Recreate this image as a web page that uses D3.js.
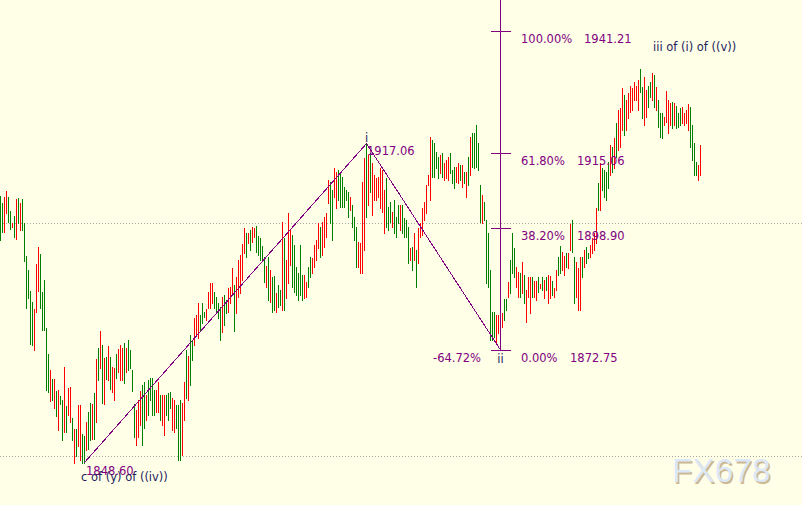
<!DOCTYPE html>
<html><head><meta charset="utf-8">
<script src="https://cdn.jsdelivr.net/npm/d3@7"></script>
<style>html,body{margin:0;padding:0;background:#ffffe8;}svg{display:block}</style>
</head><body><svg id="c" width="802" height="505"></svg>
<script>
const highs = [
1905.8,1904.3,1905.6,1906.9,1905.6,1902.6,1900.0,1901.5,1905.1,1905.4,
1904.3,1905.1,1900.0,1892.9,1889.9,1885.4,1883.1,1881.5,1891.2,1894.9,
1893.4,1885.2,1887.8,1877.5,1871.9,1868.5,1866.5,1866.5,1864.0,1864.2,
1862.9,1862.0,1869.1,1860.7,1864.6,1864.8,1858.2,1855.8,1855.8,1860.9,
1860.9,1854.7,1854.3,1857.3,1859.5,1861.4,1861.2,1863.5,1870.8,1873.2,
1876.8,1873.8,1871.0,1871.2,1873.6,1871.2,1869.1,1868.9,1871.9,1873.0,
1873.8,1873.2,1874.3,1873.2,1874.9,1872.7,1868.5,1861.2,1859.9,1862.0,
1864.0,1865.3,1865.9,1863.1,1866.3,1866.7,1866.7,1864.2,1864.2,1865.9,
1863.1,1863.1,1863.1,1863.1,1863.5,1863.7,1862.4,1862.0,1860.9,1860.9,
1862.0,1861.4,1865.9,1872.7,1871.5,1876.0,1874.9,1879.6,1880.2,1882.8,
1880.2,1882.8,1880.9,1881.5,1885.2,1887.1,1887.1,1885.2,1884.1,1882.8,
1882.0,1884.1,1884.6,1883.5,1886.1,1886.3,1890.4,1886.7,1888.4,1892.1,
1893.1,1895.5,1898.9,1897.9,1897.9,1898.5,1899.1,1898.9,1899.3,1897.2,
1896.8,1895.1,1892.7,1890.8,1892.7,1889.9,1888.4,1888.6,1885.0,1886.7,
1885.6,1900.2,1896.8,1892.1,1902.1,1898.5,1897.4,1895.3,1890.6,1889.3,
1895.3,1888.9,1888.9,1887.4,1890.6,1892.7,1892.5,1895.3,1896.4,1900.0,
1899.1,1900.2,1901.3,1902.1,1909.2,1908.8,1907.1,1911.8,1911.0,1911.4,
1910.7,1909.9,1907.7,1907.1,1906.7,1905.6,1903.9,1901.3,1899.1,1895.9,
1895.7,1908.8,1914.0,1917.06,1914.6,1915.0,1912.9,1910.3,1909.7,1909.9,
1911.8,1911.4,1907.1,1909.7,1903.4,1904.5,1902.4,1904.9,1901.3,1903.9,
1903.9,1903.9,1901.1,1900.6,1899.1,1894.6,1894.9,1897.9,1894.2,1898.9,
1900.0,1903.2,1904.5,1908.2,1910.3,1918.5,1917.8,1917.2,1915.3,1914.2,
1914.6,1915.0,1912.9,1913.5,1914.2,1915.0,1911.4,1912.0,1912.0,1912.9,
1912.4,1912.4,1911.0,1911.0,1914.2,1918.5,1919.3,1919.3,1921.0,1917.2,
1908.2,1906.0,1904.5,1900.6,1897.9,1889.9,1880.9,1880.9,1880.2,1880.2,
1882.4,1880.7,1883.7,1883.7,1887.4,1892.1,1897.9,1894.6,1890.6,1889.5,
1889.3,1891.6,1888.9,1885.6,1888.4,1888.4,1888.4,1887.6,1887.6,1888.4,
1886.9,1888.4,1887.8,1888.4,1888.9,1888.6,1887.6,1886.1,1889.9,1892.7,
1895.1,1893.8,1892.9,1893.6,1893.6,1899.8,1900.6,1892.7,1891.6,1890.4,
1892.7,1892.7,1894.2,1894.9,1893.6,1895.3,1896.8,1897.9,1903.2,1908.6,
1912.9,1911.8,1911.4,1911.0,1913.1,1916.7,1916.3,1918.2,1921.5,1924.3,
1924.7,1929.0,1927.5,1926.4,1927.9,1929.4,1929.0,1930.3,1929.4,1930.7,
1933.1,1929.2,1931.3,1928.5,1929.4,1930.3,1932.2,1931.8,1929.2,1926.4,
1923.6,1923.6,1922.8,1928.3,1926.4,1925.8,1926.0,1925.8,1925.1,1923.6,
1924.7,1924.9,1923.6,1924.3,1925.5,1924.9,1921.0,1917.2,1913.1,1912.4,
1916.7];
const lows = [
1896.4,1898.1,1898.1,1902.1,1900.2,1898.7,1899.1,1897.0,1896.6,1900.0,
1898.5,1898.5,1891.9,1881.8,1883.9,1874.0,1873.8,1872.7,1880.9,1885.4,
1881.8,1877.0,1877.0,1864.2,1863.7,1861.8,1862.0,1860.3,1858.6,1855.6,
1861.2,1853.4,1855.1,1855.1,1858.8,1857.3,1853.4,1848.6,1850.0,1852.1,
1849.1,1848.6,1848.6,1851.3,1851.5,1853.4,1853.6,1853.6,1857.3,1866.3,
1868.9,1861.4,1861.2,1866.5,1866.3,1864.4,1863.7,1862.0,1866.7,1868.0,
1866.3,1866.3,1865.7,1868.0,1868.5,1868.9,1864.0,1854.1,1852.4,1854.1,
1856.7,1852.4,1856.0,1857.7,1858.8,1862.0,1858.8,1858.8,1859.5,1859.5,
1857.7,1856.7,1854.5,1858.8,1857.7,1860.3,1855.6,1855.1,1856.0,1849.1,
1849.1,1850.2,1857.7,1862.4,1862.0,1865.2,1870.6,1873.8,1875.9,1875.3,
1877.0,1878.5,1879.8,1879.2,1881.8,1881.8,1882.8,1881.8,1880.7,1879.6,
1874.9,1876.6,1878.1,1880.7,1880.9,1882.8,1885.0,1876.8,1880.7,1884.1,
1885.0,1887.8,1893.6,1892.7,1895.7,1894.2,1895.9,1897.0,1893.8,1893.1,
1892.1,1892.1,1887.4,1886.3,1883.5,1883.1,1880.9,1881.3,1880.9,1882.0,
1882.4,1881.3,1881.3,1883.9,1887.1,1891.0,1886.3,1885.2,1884.6,1883.5,
1884.6,1883.5,1883.9,1884.1,1886.3,1888.4,1889.3,1890.6,1892.1,1894.6,
1892.7,1893.1,1894.9,1897.0,1904.3,1900.0,1896.4,1905.6,1903.2,1904.9,
1903.4,1903.4,1903.4,1904.9,1901.3,1902.8,1899.1,1896.4,1890.6,1890.6,
1889.3,1889.3,1894.2,1901.3,1903.9,1906.7,1901.7,1904.9,1904.9,1905.6,
1903.2,1902.4,1897.9,1899.1,1898.5,1900.2,1899.1,1897.9,1897.0,1900.0,
1898.5,1897.9,1897.0,1897.0,1891.4,1892.1,1889.9,1892.1,1886.3,1891.4,
1897.0,1897.4,1900.6,1902.1,1908.2,1904.9,1909.9,1909.9,1911.8,1909.7,
1910.7,1909.9,1909.2,1909.7,1909.2,1910.7,1908.6,1907.5,1908.8,1908.6,
1909.2,1907.7,1908.6,1905.6,1908.2,1910.3,1912.0,1911.8,1912.0,1911.4,
1900.2,1900.0,1900.6,1887.1,1886.3,1874.9,1874.9,1875.5,1874.5,1876.4,
1872.75,1877.7,1879.2,1881.3,1884.1,1885.0,1889.3,1888.4,1886.3,1884.1,
1884.1,1885.0,1882.8,1878.7,1884.1,1880.7,1884.1,1884.1,1883.5,1885.2,
1886.1,1885.6,1883.9,1885.6,1882.8,1883.9,1884.6,1884.1,1885.6,1888.9,
1889.3,1889.9,1888.9,1890.6,1890.4,1894.2,1893.8,1882.8,1884.1,1881.3,
1881.3,1888.4,1890.6,1891.4,1892.5,1892.7,1893.6,1894.2,1895.7,1902.8,
1902.8,1907.1,1905.6,1904.9,1907.5,1910.3,1911.0,1911.8,1914.2,1915.7,
1916.3,1920.0,1918.9,1920.0,1922.5,1923.8,1924.3,1926.4,1926.4,1924.3,
1928.1,1922.5,1921.0,1922.7,1924.9,1927.0,1926.4,1924.9,1924.3,1920.6,
1918.5,1918.2,1921.0,1921.7,1919.3,1921.0,1920.4,1921.0,1920.4,1920.6,
1921.0,1921.5,1921.0,1921.5,1920.0,1916.3,1913.5,1910.3,1910.3,1909.2,
1910.3];
const dirs = ("ggrrggrgrg"+"rggggggrrr"+"gggggrgrgr"+"ggrgrrgrgr"+"rggrggrgrg"+
"rgrgrgrrgr"+"rrgrggggrr"+"rggrggggrr"+"grrgggrrgg"+"grrgrggrrr"+
"gggrrrrggg"+"grggrrrgrr"+"rrrgrgrrgg"+"gggrgrggrg"+"grgrrrgggg"+
"ggrrggrrrr"+"grrrrggrrg"+"gggggrgggr"+"rrrgrgrrrr"+"rrrgggrggg"+
"rggggrgrgr"+"rrrrrrgggg"+"rgrrrgggrr"+"grgrgrgggg"+"grggggggrr"+
"rrggrgggrr"+"grgrrrgrrg"+"rgrgrrgrrg"+"grrgrrggrr"+"rgrggrrrrg"+
"rggggrgrgr"+"rrgrrrrrrr"+"ggrrggrgrg"+"ggrrrrgrgg"+"grrrrggggr"+"r").split("");

const fibLevels = [
  {pct:"100.00%", price:1941.21},
  {pct:"61.80%",  price:1915.06},
  {pct:"38.20%",  price:1898.90},
  {pct:"0.00%",   price:1872.75}
];
const fibPriceX = [584, 577, 577, 570];
const swing = [{i:42, p:1848.60}, {i:183, p:1917.06}, {i:250, p:1872.75}];
const gridPrices = [1900, 1850];
const retrace = "-64.72%";

const svg = d3.select("#c");
const W = 802, H = 505;
svg.append("rect").attr("width", W).attr("height", H).attr("fill", "#ffffe8");

const x = d3.scaleLinear().domain([0, 350]).range([0.5, 700.5]);
const y = d3.scaleLinear().domain([1872.75, 1941.21]).range([350, 31]);

// dotted horizontal lines
svg.selectAll("line.grid").data(gridPrices).enter().append("line")
  .attr("x1", 0).attr("x2", W)
  .attr("y1", d => Math.round(y(d)) + 0.5).attr("y2", d => Math.round(y(d)) + 0.5)
  .attr("stroke", "#a8a8a0").attr("stroke-width", 1).attr("stroke-dasharray", "1,2");

// watermark
const wm = svg.append("g");
wm.append("text").attr("x", 673.5).attr("y", 483.5).text("FX678")
  .attr("font-family", "Liberation Sans, Arial, sans-serif").attr("font-size", 33)
  .attr("letter-spacing", 0.3).attr("fill", "#cdb893");
wm.append("text").attr("x", 672).attr("y", 482).text("FX678")
  .attr("font-family", "Liberation Sans, Arial, sans-serif").attr("font-size", 33)
  .attr("letter-spacing", 0.3).attr("fill", "#dce7f7");

// bars
const colors = {g: "#008000", r: "#ff0000"};
svg.append("g").selectAll("line").data(highs).enter().append("line")
  .attr("x1", (d, i) => x(i)).attr("x2", (d, i) => x(i))
  .attr("y1", d => Math.round(y(d)))
  .attr("y2", (d, i) => Math.round(y(lows[i])) + 1)
  .attr("stroke", (d, i) => colors[dirs[i]])
  .attr("stroke-width", 1)
  .attr("shape-rendering", "crispEdges");

// swing zig-zag
const line = d3.line().x(d => x(d.i)).y(d => y(d.p));
svg.append("path").datum(swing).attr("d", line)
  .attr("fill", "none").attr("stroke", "#800080").attr("stroke-width", 1)
  .attr("shape-rendering", "crispEdges");

// fib vertical and ticks
const fx = x(swing[2].i);
svg.append("line").attr("x1", fx).attr("x2", fx).attr("y1", 0).attr("y2", y(swing[2].p))
  .attr("stroke", "#800080").attr("stroke-width", 1).attr("shape-rendering", "crispEdges");
svg.selectAll("line.fib").data(fibLevels).enter().append("line")
  .attr("x1", fx - 10).attr("x2", fx + 10)
  .attr("y1", d => Math.round(y(d.price)) + 0.5).attr("y2", d => Math.round(y(d.price)) + 0.5)
  .attr("stroke", "#800080").attr("stroke-width", 1).attr("shape-rendering", "crispEdges");

const font = "DejaVu Sans, Verdana, sans-serif";
const purple = "#800080", navy = "#1c1c5c";
function label(t, xx, yy, color, anchor) {
  svg.append("text").attr("x", xx).attr("y", yy).text(t)
    .attr("font-family", font).attr("font-size", 11.5)
    .attr("fill", color).attr("text-anchor", anchor || "start");
}
fibLevels.forEach((d, k) => {
  const yy = y(d.price) + 12;
  label(d.pct, 521, yy, purple);
  label(d.price.toFixed(2), fibPriceX[k], yy, purple);
});
label(retrace, 433, y(swing[2].p) + 12, purple);
label(swing[1].p.toFixed(2), 367, y(swing[1].p) + 11.5, purple);
label(swing[0].p.toFixed(2), 86, y(swing[0].p) + 12.5, purple);
label("i", x(swing[1].i), y(swing[1].p) - 1.5, navy, "middle");
label("ii", fx, y(swing[2].p) + 13, navy, "middle");
label("c of (y) of ((iv))", 81, 481, navy);
label("iii of (i) of ((v))", 653, 51, navy);
</script></body></html>
